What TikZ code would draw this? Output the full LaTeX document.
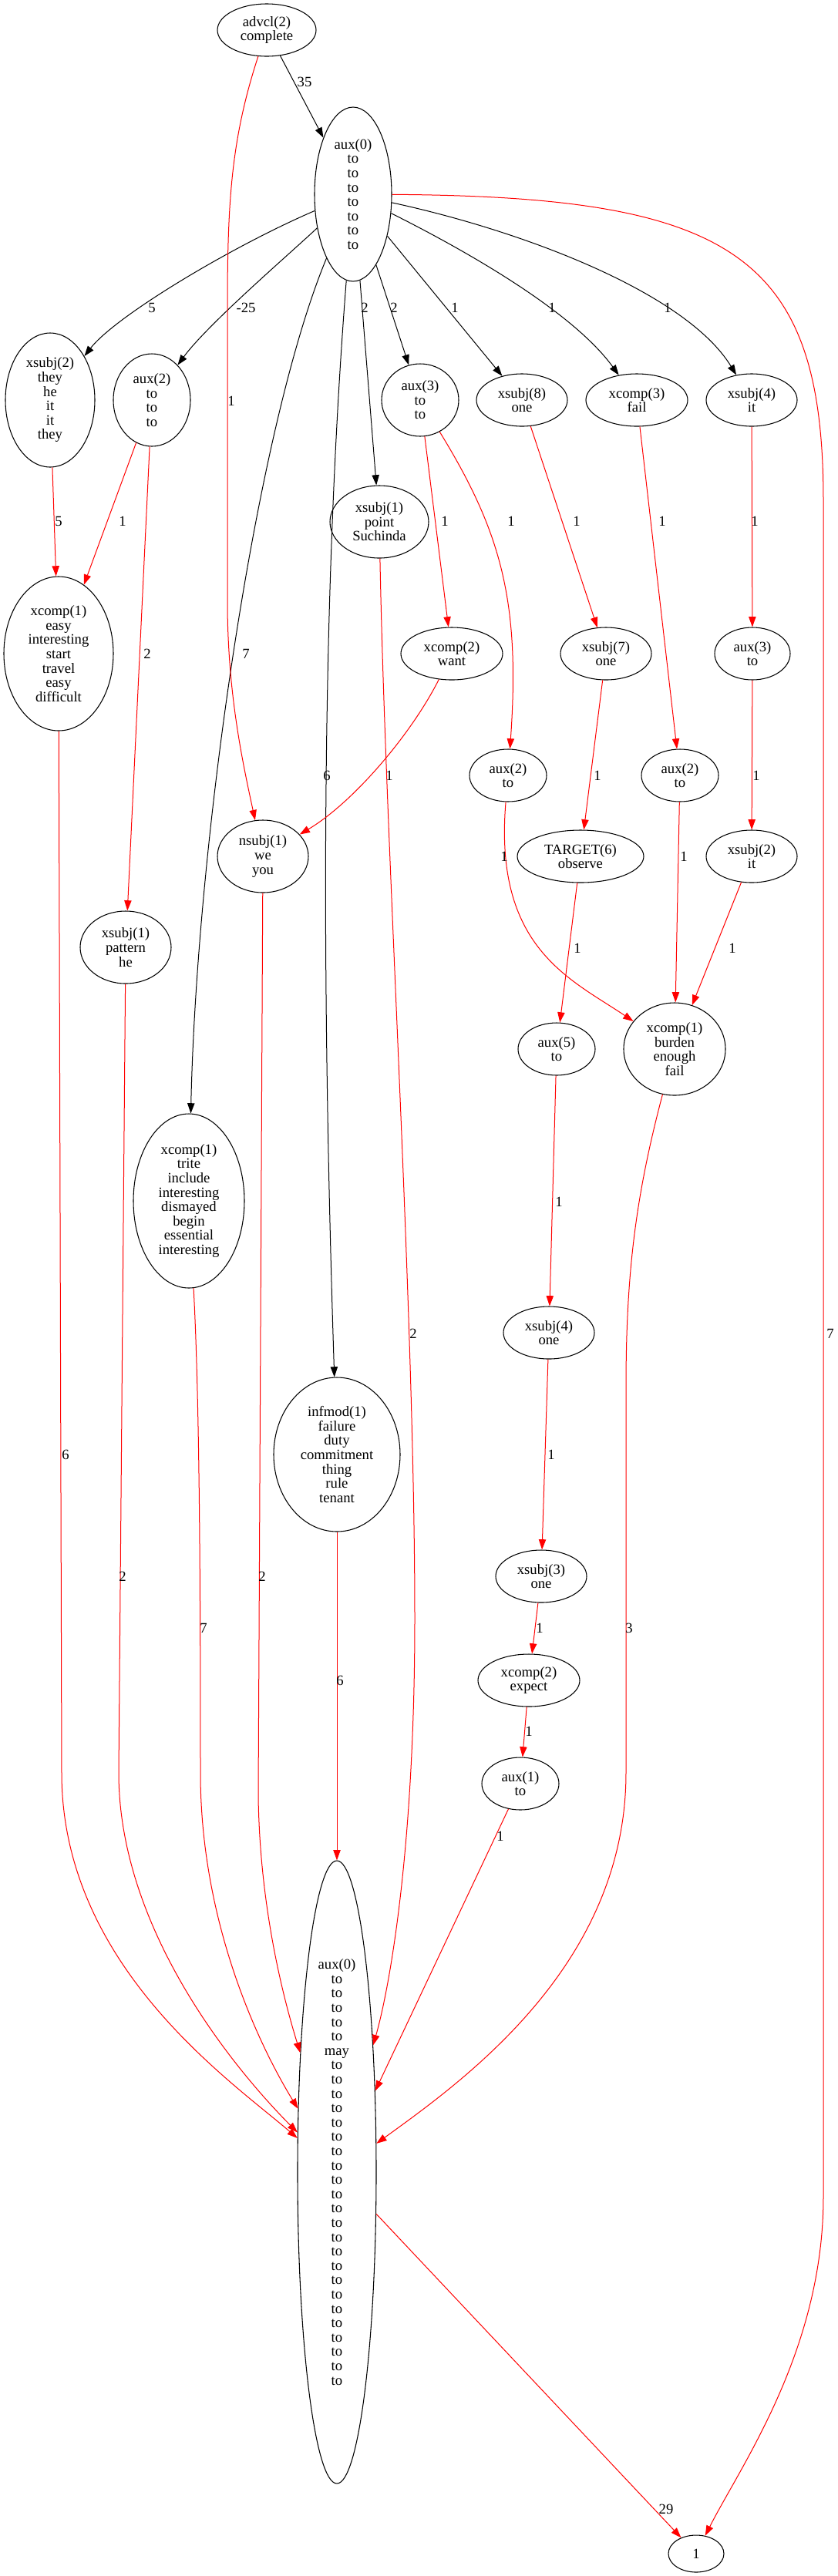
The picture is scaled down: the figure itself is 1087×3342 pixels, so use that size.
\documentclass[tikz,border=0pt]{standalone}
\usepackage{fontspec}
\setmainfont{Liberation Serif}
\usepackage{tikz}
\usetikzlibrary{arrows.meta,shapes.geometric}

\begin{document}
\begin{tikzpicture}[
  x=0.75pt, y=-0.75pt,
  font=\fontsize{14}{13.95}\selectfont,
  elipse/.style={draw, ellipse, inner sep=0pt, align=center, line width=0.8pt},
  tam/.style 2 args={minimum width={#1*1.5pt}, minimum height={#2*1.5pt}},
  seta/.style={-{Triangle[length=10pt, width=7pt]}, line width=0.75pt},
  setav/.style={seta, draw=red},
  rotulo/.style={inner sep=0pt}]
  \useasboundingbox (0,0) rectangle (1087,3342);
  % topo
  \node[elipse, tam={64}{34}] (adv) at (346,39) {advcl(2)\\complete};
  \node[elipse, tam={50}{113}] (aux0) at (458,252) {aux(0)\\to\\to\\to\\to\\to\\to\\to};
  % primeira fileira
  \node[elipse, tam={58}{87}] (xs2) at (65,519) {xsubj(2)\\they\\he\\it\\it\\they};
  \node[elipse, tam={50}{60}] (aux2a) at (197,519) {aux(2)\\to\\to\\to};
  \node[elipse, tam={50}{47}] (aux3a) at (545,519) {aux(3)\\to\\to};
  \node[elipse, tam={59}{34}] (xs8) at (677,519) {xsubj(8)\\one};
  \node[elipse, tam={66}{34}] (xc3) at (826,519) {xcomp(3)\\fail};
  \node[elipse, tam={59}{34}] (xs4) at (975,519) {xsubj(4)\\it};
  % meio
  \node[elipse, tam={64}{47}] (xs1a) at (492,677) {xsubj(1)\\point\\Suchinda};
  \node[elipse, tam={71}{100}] (xc1a) at (76,848) {xcomp(1)\\easy\\interesting\\start\\travel\\easy\\difficult};
  \node[elipse, tam={66}{34}] (xc2a) at (586,848) {xcomp(2)\\want};
  \node[elipse, tam={59}{34}] (xs7) at (786,848) {xsubj(7)\\one};
  \node[elipse, tam={49}{34}] (aux3b) at (976,848) {aux(3)\\to};
  \node[elipse, tam={50}{34}] (aux2b) at (659,1006) {aux(2)\\to};
  \node[elipse, tam={50}{34}] (aux2c) at (882,1006) {aux(2)\\to};
  \node[elipse, tam={59}{47}] (ns1) at (341,1111) {nsubj(1)\\we\\you};
  \node[elipse, tam={82}{34}] (tgt) at (753,1111) {TARGET(6)\\observe};
  \node[elipse, tam={59}{34}] (xs2b) at (975,1111) {xsubj(2)\\it};
  \node[elipse, tam={59}{47}] (xs1b) at (163,1229) {xsubj(1)\\pattern\\he};
  \node[elipse, tam={50}{34}] (aux5) at (722,1361) {aux(5)\\to};
  \node[elipse, tam={66}{60}] (xc1b) at (875,1361) {xcomp(1)\\burden\\enough\\fail};
  \node[elipse, tam={72}{113}] (xc1c) at (245,1558) {xcomp(1)\\trite\\include\\interesting\\dismayed\\begin\\essential\\interesting};
  \node[elipse, tam={59}{34}] (xs4b) at (712,1729) {xsubj(4)\\one};
  \node[elipse, tam={82}{100}] (inf) at (437,1887) {infmod(1)\\failure\\duty\\commitment\\thing\\rule\\tenant};
  \node[elipse, tam={59}{34}] (xs3) at (702,2045) {xsubj(3)\\one};
  \node[elipse, tam={66}{34}] (xc2b) at (686,2180) {xcomp(2)\\expect};
  \node[elipse, tam={50}{34}] (aux1) at (675,2314) {aux(1)\\to};
  % base
  \node[elipse, tam={51}{404}] (aux0b) at (437,2818) {aux(0)\\to\\to\\to\\to\\to\\may\\to\\to\\to\\to\\to\\to\\to\\to\\to\\to\\to\\to\\to\\to\\to\\to\\to\\to\\to\\to\\to\\to\\to};
  \node[elipse, tam={36}{24}] (um) at (903,3313) {1};
  % arestas pretas
  \draw[seta] (adv) -- (aux0) node[rotulo] at (395,106) {35};
  \draw[seta] (aux0) .. controls (300,320) and (150,410) .. (xs2) node[rotulo] at (197,399) {5};
  \draw[seta] (aux0) .. controls (375,330) and (270,420) .. (aux2a) node[rotulo] at (319,399) {-25};
  \draw[seta] (aux0) .. controls (330,560) and (255,1100) .. (xc1c) node[rotulo] at (319,848) {7};
  \draw[seta] (aux0) .. controls (415,800) and (418,1300) .. (inf) node[rotulo] at (424,1006) {6};
  \draw[seta] (aux0) -- (xs1a) node[rotulo] at (473,399) {2};
  \draw[seta] (aux0) -- (aux3a) node[rotulo] at (511,399) {2};
  \draw[seta] (aux0) -- (xs8) node[rotulo] at (590,399) {1};
  \draw[seta] (aux0) .. controls (590,318) and (740,400) .. (xc3) node[rotulo] at (716,399) {1};
  \draw[seta] (aux0) .. controls (680,300) and (890,380) .. (xs4) node[rotulo] at (866,399) {1};
  % arestas vermelhas
  \draw[setav] (adv) .. controls (300,180) and (295,260) .. (295,400) -- (295,780) .. controls (295,900) and (315,990) .. (ns1) node[rotulo] at (300,520) {1};
  \draw[setav] (aux0) .. controls (950,255) and (1068,330) .. (1068,650) -- (1068,2850) .. controls (1068,3050) and (960,3200) .. (um) node[rotulo] at (1077,1730) {7};
  \draw[setav] (xs2) -- (xc1a) node[rotulo] at (76,676) {5};
  \draw[setav] (aux2a) -- (xc1a) node[rotulo] at (159,676) {1};
  \draw[setav] (aux2a) -- (xs1b) node[rotulo] at (191,848) {2};
  \draw[setav] (aux3a) -- (xc2a) node[rotulo] at (577,676) {1};
  \draw[setav] (aux3a) .. controls (650,690) and (675,780) .. (aux2b) node[rotulo] at (663,676) {1};
  \draw[setav] (xs8) -- (xs7) node[rotulo] at (748,676) {1};
  \draw[setav] (xc3) -- (aux2c) node[rotulo] at (859,676) {1};
  \draw[setav] (xs4) -- (aux3b) node[rotulo] at (979,676) {1};
  \draw[setav] (xc2a) .. controls (535,950) and (460,1040) .. (ns1) node[rotulo] at (505,1006) {1};
  \draw[setav] (xs7) -- (tgt) node[rotulo] at (775,1006) {1};
  \draw[setav] (aux3b) -- (xs2b) node[rotulo] at (981,1006) {1};
  \draw[setav] (aux2b) .. controls (640,1230) and (740,1270) .. (xc1b) node[rotulo] at (654,1111) {1};
  \draw[setav] (aux2c) -- (xc1b) node[rotulo] at (887,1111) {1};
  \draw[setav] (xs2b) -- (xc1b) node[rotulo] at (950,1230) {1};
  \draw[setav] (tgt) -- (aux5) node[rotulo] at (749,1230) {1};
  \draw[setav] (aux5) -- (xs4b) node[rotulo] at (725,1559) {1};
  \draw[setav] (xs4b) -- (xs3) node[rotulo] at (715,1887) {1};
  \draw[setav] (xs3) -- (xc2b) node[rotulo] at (700,2112) {1};
  \draw[setav] (xc2b) -- (aux1) node[rotulo] at (686,2246) {1};
  \draw[setav] (aux1) -- (aux0b) node[rotulo] at (649,2382) {1};
  \draw[setav] (inf) -- (aux0b) node[rotulo] at (441,2180) {6};
  \draw[setav] (xs1a) .. controls (500,1100) and (538,1700) .. (538,2100) .. controls (538,2400) and (505,2580) .. (aux0b) node[rotulo] at (536,1730) {2};
  \draw[setav] (xc1a) -- (80,2300) .. controls (80,2550) and (300,2700) .. (aux0b) node[rotulo] at (85,1887) {6};
  \draw[setav] (xs1b) -- (154,2300) .. controls (154,2500) and (300,2680) .. (aux0b) node[rotulo] at (159,2045) {2};
  \draw[setav] (xc1c) .. controls (258,1800) and (260,2000) .. (260,2300) .. controls (260,2500) and (340,2660) .. (aux0b) node[rotulo] at (264,2112) {7};
  \draw[setav] (ns1) -- (335,2330) .. controls (337,2480) and (370,2600) .. (aux0b) node[rotulo] at (340,2045) {2};
  \draw[setav] (xc1b) .. controls (825,1550) and (812,1650) .. (812,1800) -- (812,2300) .. controls (812,2550) and (600,2700) .. (aux0b) node[rotulo] at (816,2112) {3};
  \draw[setav] (aux0b) -- (um) node[rotulo] at (864,3255) {29};
\end{tikzpicture}
\end{document}
